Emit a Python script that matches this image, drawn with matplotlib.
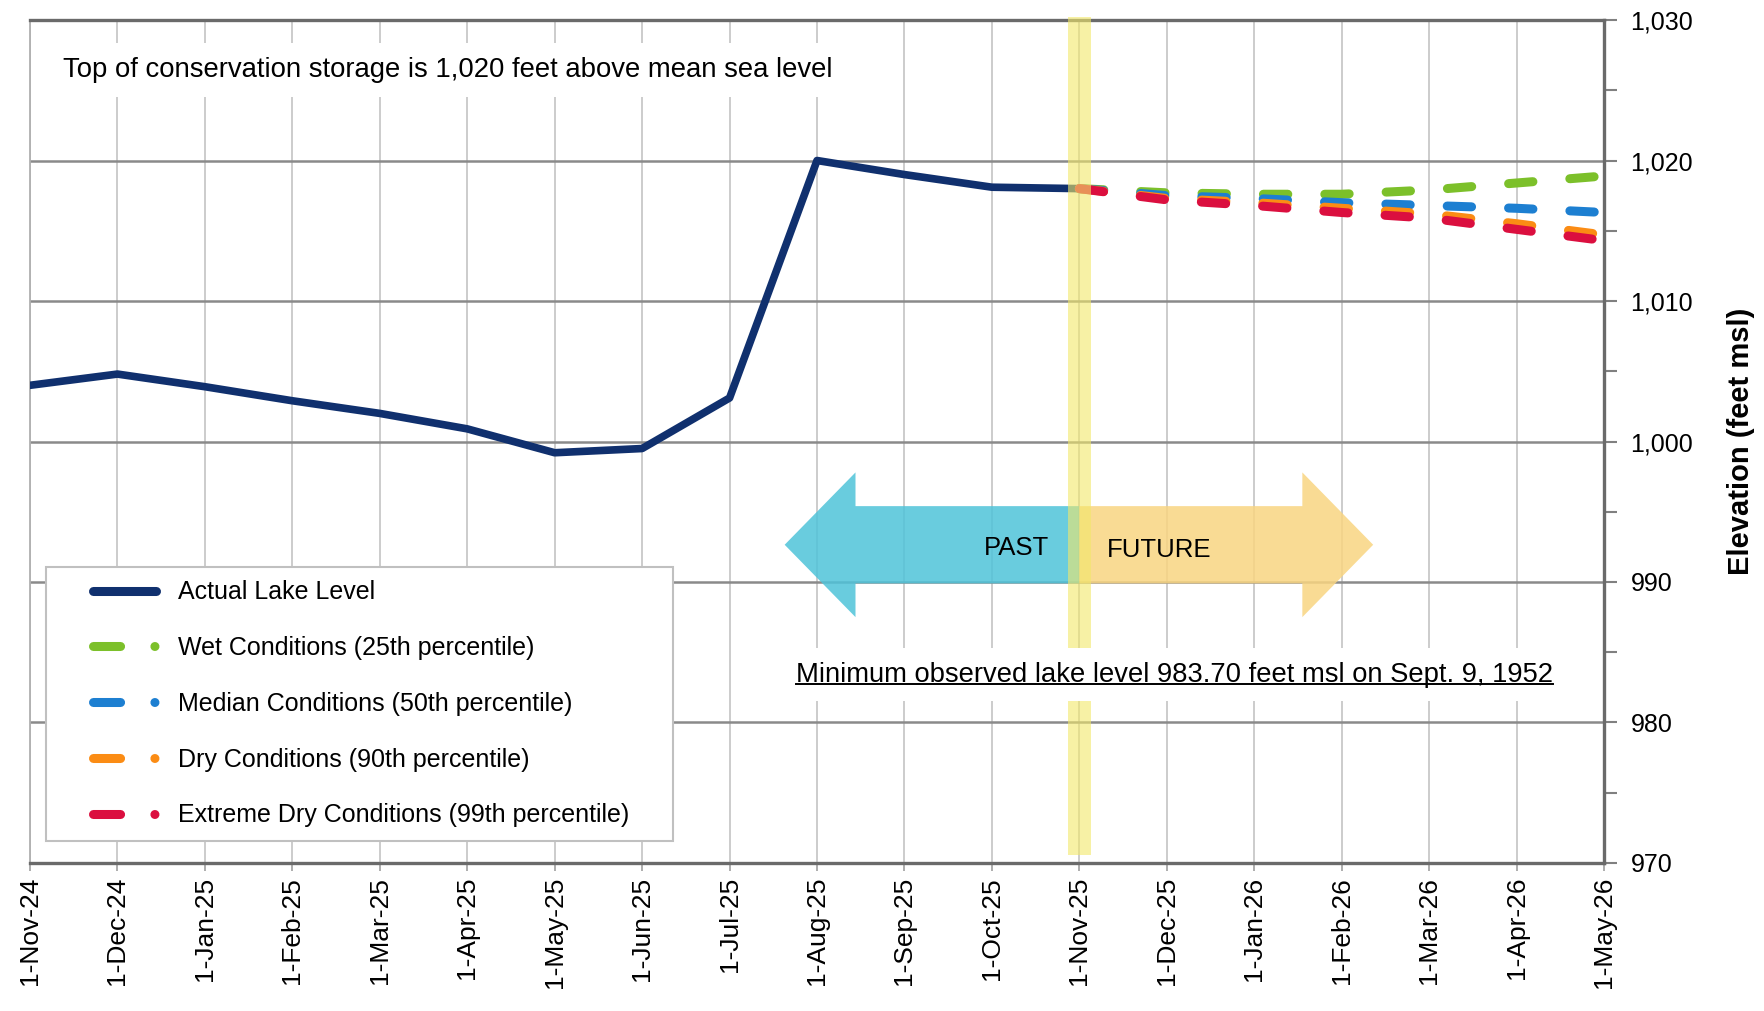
import matplotlib
matplotlib.use("Agg")
import matplotlib.pyplot as plt
from matplotlib.lines import Line2D
from matplotlib.patches import FancyArrow, Rectangle
from matplotlib.legend_handler import HandlerLine2D
from matplotlib.ticker import MultipleLocator, FuncFormatter
from matplotlib.transforms import IdentityTransform

plt.rcParams['font.family'] = ['Liberation Sans', 'DejaVu Sans']

# month labels along the x axis (equally spaced)
months = ["1-Nov-24", "1-Dec-24", "1-Jan-25", "1-Feb-25", "1-Mar-25", "1-Apr-25",
          "1-May-25", "1-Jun-25", "1-Jul-25", "1-Aug-25", "1-Sep-25", "1-Oct-25",
          "1-Nov-25", "1-Dec-25", "1-Jan-26", "1-Feb-26", "1-Mar-26", "1-Apr-26",
          "1-May-26"]

# observed lake level, Nov-24 .. Nov-25
actual_level = [1004.0, 1004.8, 1003.9, 1002.9, 1002.0, 1000.9, 999.2,
                999.5, 1003.1, 1020.0, 1019.0, 1018.1, 1018.0]

# projections, Nov-25 .. May-26
wet_level = [1018.0, 1017.7, 1017.6, 1017.6, 1017.9, 1018.4, 1018.9]
median_level = [1018.0, 1017.5, 1017.3, 1017.0, 1016.8, 1016.6, 1016.3]
dry_level = [1018.0, 1017.3, 1017.0, 1016.6, 1016.2, 1015.5, 1014.7]
extreme_level = [1018.0, 1017.2, 1016.8, 1016.3, 1015.9, 1015.1, 1014.3]

series_labels = ["Actual Lake Level",
                 "Wet Conditions (25th percentile)",
                 "Median Conditions (50th percentile)",
                 "Dry Conditions (90th percentile)",
                 "Extreme Dry Conditions (99th percentile)"]

navy = "#10306e"
proj_colors = ["#7cc02a", "#1d7fd1", "#fb8c14", "#db0f3f"]

today_idx = months.index("1-Nov-25")

fig = plt.figure(figsize=(17.65, 10.11), dpi=100)
ax = fig.add_axes([0.017, 0.1464, 0.8918, 0.8338])

x_actual = list(range(len(actual_level)))
x_proj = list(range(today_idx, today_idx + len(wet_level)))

ax.plot(x_actual, actual_level, color=navy, lw=5.5, solid_capstyle="round",
        solid_joinstyle="round", zorder=4)
for vals, c in zip([wet_level, median_level, dry_level, extreme_level], proj_colors):
    ax.plot(x_proj, vals, color=c, lw=6.5, dashes=(2.7, 4.1),
            dash_capstyle="round", zorder=4)

# "today" band
band = Rectangle((today_idx - 0.13, 970.55), 0.26, 59.7, facecolor="#f2e86a",
                 alpha=0.6, edgecolor="none", zorder=5, clip_on=False)
ax.add_patch(band)

# past / future arrows
ax.add_patch(FancyArrow(today_idx, 992.65, -3.37, 0, width=5.5, head_width=10.3,
                        head_length=0.81, length_includes_head=True,
                        facecolor="#4fc3d9", edgecolor="none", alpha=0.85, zorder=3))
ax.add_patch(FancyArrow(today_idx, 992.65, 3.36, 0, width=5.5, head_width=10.3,
                        head_length=0.81, length_includes_head=True,
                        facecolor="#f9d581", edgecolor="none", alpha=0.85, zorder=3))
ax.text(today_idx - 0.72, 992.45, "PAST", fontsize=18.5, ha="center", va="center", zorder=6)
ax.text(today_idx + 0.91, 992.3, "FUTURE", fontsize=18.5, ha="center", va="center", zorder=6)

ax.text(0.021, 0.941, "Top of conservation storage is 1,020 feet above mean sea level",
        transform=ax.transAxes, fontsize=19.8, ha="left", va="center", zorder=6,
        bbox=dict(boxstyle="square,pad=0.5", facecolor="white", edgecolor="none"))
min_txt = ax.text(13.09, 983.4,
                  "Minimum observed lake level 983.70 feet msl on Sept. 9, 1952",
                  fontsize=19.7, ha="center", va="center", zorder=6,
                  bbox=dict(boxstyle="square,pad=0.5", facecolor="white", edgecolor="none"))

# axes styling
ax.set_xlim(0, len(months) - 1)
ax.set_ylim(970, 1030)
ax.set_xticks(range(len(months)))
ax.set_xticklabels(months, rotation=90, fontsize=19)
ax.yaxis.tick_right()
ax.yaxis.set_label_position("right")
ax.yaxis.set_major_locator(MultipleLocator(10))
ax.yaxis.set_minor_locator(MultipleLocator(5))
ax.yaxis.set_major_formatter(FuncFormatter(lambda v, p: f"{v:,.0f}"))
ax.tick_params(axis="y", which="both", length=9, width=1.5, color="#808080",
               labelsize=18, pad=10)
ax.tick_params(axis="x", length=6, width=1.2, color="#a0a0a0", pad=4)
ax.set_ylabel("Elevation (feet msl)", fontsize=21, fontweight="bold")
ax.yaxis.set_label_coords(1.078, 0.5)

ax.xaxis.grid(True, color="#c8c8c8", lw=1.3)
ax.yaxis.grid(True, which="major", color="#8a8a8a", lw=1.8)
ax.set_axisbelow(True)
for side in ["top", "right", "bottom"]:
    ax.spines[side].set_color("#6a6a6a")
    ax.spines[side].set_linewidth(2.4)
ax.spines["left"].set_color("#b0b0b0")
ax.spines["left"].set_linewidth(1.3)

# legend with proxy handles (dash + dot samples)
handles = [Line2D([], [], color=navy, lw=6.5, solid_capstyle="round")]
for c in proj_colors:
    handles.append(Line2D([], [], color=c, lw=6.5, dashes=(3.0, 3.8, 0.01, 20),
                          dash_capstyle="round"))
leg = ax.legend(handles, series_labels, loc="lower left", mode="expand",
                bbox_to_anchor=(0.0102, 0.026, 0.398, 0.3), borderaxespad=0,
                fontsize=18, frameon=True, fancybox=False, framealpha=1,
                edgecolor="#c0c0c0", borderpad=0.55, labelspacing=1.27,
                handlelength=3.86, handletextpad=0.87,
                handler_map={Line2D: HandlerLine2D(xpad=1.31)})
leg.get_frame().set_linewidth(1.5)
leg.set_zorder(7)

# underline for the minimum-level note
fig.canvas.draw()
bb = min_txt.get_window_extent()
uy = bb.y0 + 3.5
fig.add_artist(Line2D([bb.x0, bb.x1], [uy, uy], color="black", lw=1.4,
                      transform=IdentityTransform(), zorder=8))

fig.savefig("out.png", dpi=100)
